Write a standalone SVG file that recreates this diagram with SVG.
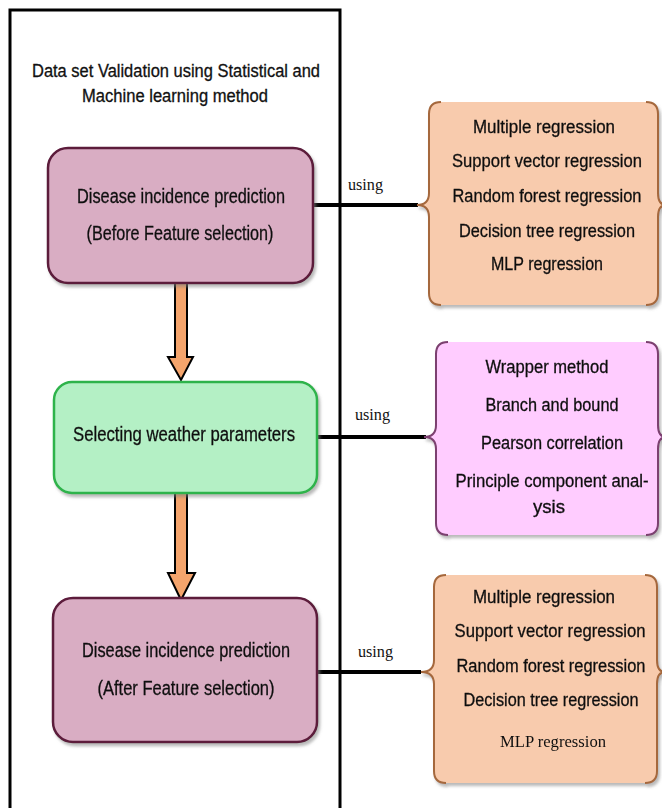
<svg xmlns="http://www.w3.org/2000/svg" width="662" height="808" viewBox="0 0 662 808">
<defs>
<filter id="sh" x="-10%" y="-10%" width="130%" height="130%">
<feDropShadow dx="2" dy="3" stdDeviation="1.5" flood-color="#808080" flood-opacity="0.55"/>
</filter>
<style>
.t{font-family:"Liberation Sans",Arial,sans-serif;fill:#111;stroke:#111;stroke-width:0.3;text-anchor:middle}
.s{font-family:"Liberation Serif","Times New Roman",serif;fill:#111;font-size:16px}
.box{stroke-width:2.5}
.prp{fill:#D9ADC3;stroke:#5B1A3A}
.grn{fill:#B4F0C5;stroke:#2FB34B}
.org{fill:#F8CBAD}
.orgs{fill:none;stroke:#A5683C;stroke-width:2}
.pnk{fill:#FFCCFF}
.pnks{fill:none;stroke:#7B3F6F;stroke-width:2}
.conn{stroke:#000;stroke-width:4;fill:none}
.arr{fill:#F4A46C;stroke:#000;stroke-width:2;stroke-linejoin:miter}
</style>
</defs>
<rect width="662" height="808" fill="#fff"/>

<g id="frame">
<path d="M10,812 V10 H340 V812" fill="none" stroke="#000" stroke-width="3"/>
<text class="t" font-size="17.5" x="176" y="77" textLength="288" lengthAdjust="spacingAndGlyphs">Data set Validation using Statistical and</text>
<text class="t" font-size="17.5" x="175" y="102" textLength="186" lengthAdjust="spacingAndGlyphs">Machine learning method</text>
</g>

<g id="connectors">
<path class="conn" d="M313,205 H418"/>
<path class="conn" d="M317,437 H426"/>
<path class="conn" d="M317,672 H421"/>
<path class="arr" d="M175,283 H187 V357 H193 L181,380 L168,357 H175 Z"/>
<path class="arr" d="M175,493 H187 V573 H195 L181,600 L168,573 H175 Z"/>
<text class="s" x="348" y="190" textLength="35" lengthAdjust="spacingAndGlyphs">using</text>
<text class="s" x="355" y="420" textLength="35" lengthAdjust="spacingAndGlyphs">using</text>
<text class="s" x="358" y="657" textLength="35" lengthAdjust="spacingAndGlyphs">using</text>
</g>

<g id="node-before" filter="url(#sh)">
<rect class="box prp" x="48" y="148" width="265" height="135" rx="20"/>
<text class="t" font-size="19.5" x="181" y="203" textLength="208" lengthAdjust="spacingAndGlyphs">Disease incidence prediction</text>
<text class="t" font-size="19.5" x="180" y="240" textLength="187" lengthAdjust="spacingAndGlyphs">(Before Feature selection)</text>
</g>

<g id="node-select" filter="url(#sh)">
<rect class="box grn" x="54" y="382" width="263" height="111" rx="18"/>
<text class="t" font-size="19.5" x="184" y="441" textLength="222" lengthAdjust="spacingAndGlyphs">Selecting weather  parameters</text>
</g>

<g id="node-after" filter="url(#sh)">
<rect class="box prp" x="53" y="598" width="264" height="144" rx="20"/>
<text class="t" font-size="19.5" x="186" y="657" textLength="208" lengthAdjust="spacingAndGlyphs">Disease incidence prediction</text>
<text class="t" font-size="19.5" x="186" y="695" textLength="177" lengthAdjust="spacingAndGlyphs">(After Feature selection)</text>
</g>

<g id="methods-before" filter="url(#sh)">
<path class="org" d="M441,102 H646 Q658,102 658,114 V193 Q658,205 666,205 Q658,205 658,217 V293 Q658,305 646,305 H441 Q429,305 429,293 V217 Q429,205 417,205 Q429,205 429,193 V114 Q429,102 441,102 Z"/>
<path class="orgs" d="M441,102 Q429,102 429,114 V193 Q429,205 417,205 Q429,205 429,217 V293 Q429,305 441,305"/>
<path class="orgs" d="M646,102 Q658,102 658,114 V193 Q658,205 666,205 Q658,205 658,217 V293 Q658,305 646,305"/>
<text class="t" font-size="17.5" x="544" y="133" textLength="142" lengthAdjust="spacingAndGlyphs">Multiple regression</text>
<text class="t" font-size="17.5" x="547" y="167" textLength="190" lengthAdjust="spacingAndGlyphs">Support vector regression</text>
<text class="t" font-size="17.5" x="547" y="202" textLength="189" lengthAdjust="spacingAndGlyphs">Random forest regression</text>
<text class="t" font-size="17.5" x="547" y="237" textLength="176" lengthAdjust="spacingAndGlyphs">Decision tree regression</text>
<text class="t" font-size="17.5" x="547" y="270" textLength="112" lengthAdjust="spacingAndGlyphs">MLP regression</text>
</g>

<g id="methods-select" filter="url(#sh)">
<path class="pnk" d="M448,342 H646 Q658,342 658,354 V425 Q658,437 666,437 Q658,437 658,449 V523 Q658,535 646,535 H448 Q436,535 436,523 V449 Q436,437 424,437 Q436,437 436,425 V354 Q436,342 448,342 Z"/>
<path class="pnks" d="M448,342 Q436,342 436,354 V425 Q436,437 424,437 Q436,437 436,449 V523 Q436,535 448,535"/>
<path class="pnks" d="M646,342 Q658,342 658,354 V425 Q658,437 666,437 Q658,437 658,449 V523 Q658,535 646,535"/>
<text class="t" font-size="17.5" x="547" y="373" textLength="123" lengthAdjust="spacingAndGlyphs">Wrapper method</text>
<text class="t" font-size="17.5" x="552" y="411" textLength="133" lengthAdjust="spacingAndGlyphs">Branch and bound</text>
<text class="t" font-size="17.5" x="552" y="449" textLength="142" lengthAdjust="spacingAndGlyphs">Pearson correlation</text>
<text class="t" font-size="17.5" x="552" y="487" textLength="193" lengthAdjust="spacingAndGlyphs">Principle component anal-</text>
<text class="t" font-size="17.5" x="549" y="513" textLength="32" lengthAdjust="spacingAndGlyphs">ysis</text>
</g>

<g id="methods-after" filter="url(#sh)">
<path class="org" d="M446,575 H645 Q657,575 657,587 V660 Q657,672 665,672 Q657,672 657,684 V771 Q657,783 645,783 H446 Q434,783 434,771 V684 Q434,672 421,672 Q434,672 434,660 V587 Q434,575 446,575 Z"/>
<path class="orgs" d="M446,575 Q434,575 434,587 V660 Q434,672 421,672 Q434,672 434,684 V771 Q434,783 446,783"/>
<path class="orgs" d="M645,575 Q657,575 657,587 V660 Q657,672 665,672 Q657,672 657,684 V771 Q657,783 645,783"/>
<text class="t" font-size="17.5" x="544" y="603" textLength="142" lengthAdjust="spacingAndGlyphs">Multiple regression</text>
<text class="t" font-size="17.5" x="550" y="637" textLength="191" lengthAdjust="spacingAndGlyphs">Support vector regression</text>
<text class="t" font-size="17.5" x="551" y="672" textLength="189" lengthAdjust="spacingAndGlyphs">Random forest regression</text>
<text class="t" font-size="17.5" x="551" y="706" textLength="175" lengthAdjust="spacingAndGlyphs">Decision tree regression</text>
<text class="s" x="553" y="747" text-anchor="middle" font-size="16.5" textLength="106" lengthAdjust="spacingAndGlyphs">MLP regression</text>
</g>
</svg>
